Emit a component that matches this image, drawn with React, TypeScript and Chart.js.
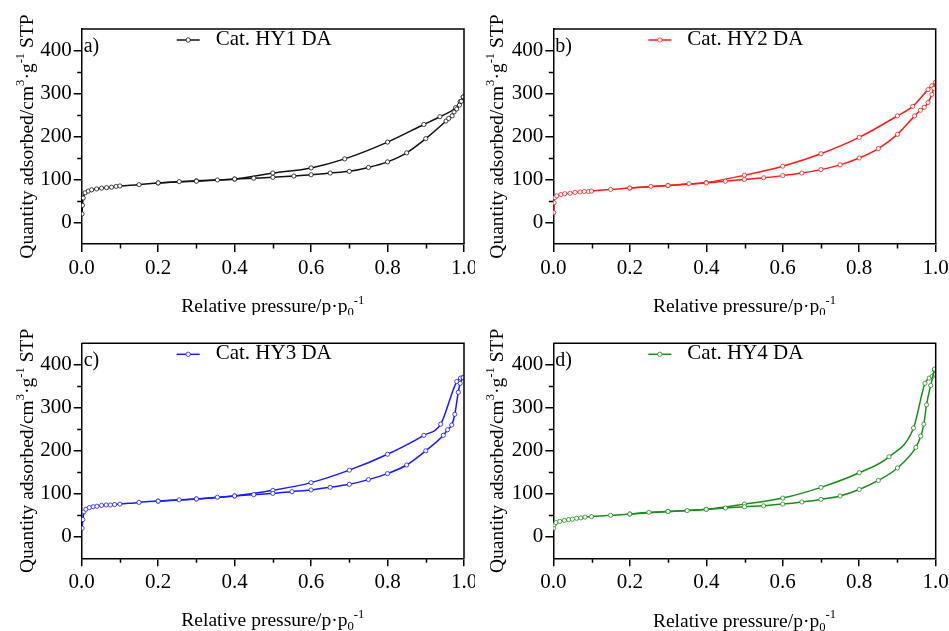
import React, { useEffect, useRef } from "react";
import { Chart, registerables } from "chart.js";

Chart.register(...registerables);

// ---- tick values ----
const xTickValues = [0, 0.2, 0.4, 0.6, 0.8, 1.0];
const xMinorTicks = [0.1, 0.3, 0.5, 0.7, 0.9];
const yTickValues = [0, 100, 200, 300, 400];
const yMinorTicks = [50, 150, 250, 350];

// ---- panel a: Cat. HY1 DA ----
const aAdsP = [0.001, 0.002, 0.004, 0.009, 0.017, 0.026, 0.039, 0.052, 0.065, 0.078, 0.09, 0.1, 0.15, 0.2, 0.255, 0.3, 0.355, 0.4, 0.45, 0.5, 0.555, 0.6, 0.65, 0.7, 0.75, 0.8, 0.85, 0.9, 0.953, 0.96, 0.969, 0.974, 0.981, 0.988, 0.993, 0.998];
const aAdsV = [20, 40, 57, 69, 73, 76, 78, 80, 81, 82, 84, 85, 88, 92, 95, 96, 99, 101, 103, 105, 108, 111, 115, 119, 128, 141, 162, 195, 236, 242, 248, 257, 264, 273, 282, 292];
const aDesP = [0.2, 0.3, 0.4, 0.5, 0.6, 0.688, 0.8, 0.895, 0.937, 0.978, 0.99, 0.998];
const aDesV = [92, 97, 101, 115, 127, 148, 187, 228, 246, 267, 281, 292];

// ---- panel b: Cat. HY2 DA ----
const bAdsP = [0.001, 0.002, 0.004, 0.009, 0.02, 0.03, 0.044, 0.057, 0.07, 0.081, 0.092, 0.1, 0.15, 0.2, 0.255, 0.3, 0.355, 0.4, 0.45, 0.5, 0.55, 0.6, 0.65, 0.7, 0.75, 0.8, 0.85, 0.9, 0.945, 0.96, 0.97, 0.98, 0.99, 0.995, 1.0];
const bAdsV = [23, 46, 58, 62, 65, 67, 68, 70, 71, 72, 72, 73, 77, 80, 84, 86, 90, 92, 96, 100, 104, 109, 115, 123, 134, 150, 172, 205, 248, 261, 268, 279, 298, 312, 326];
const bDesP = [0.2, 0.3, 0.4, 0.5, 0.6, 0.7, 0.8, 0.9, 0.94, 0.98, 0.99, 1.0];
const bDesV = [80, 86, 93, 110, 131, 160, 198, 248, 270, 309, 318, 326];

// ---- panel c: Cat. HY3 DA ----
const cAdsP = [0.001, 0.003, 0.006, 0.011, 0.02, 0.03, 0.04, 0.052, 0.064, 0.075, 0.086, 0.1, 0.15, 0.2, 0.255, 0.3, 0.355, 0.4, 0.45, 0.5, 0.55, 0.6, 0.65, 0.7, 0.75, 0.8, 0.85, 0.9, 0.946, 0.957, 0.968, 0.976, 0.985, 0.99, 0.998];
const cAdsV = [20, 40, 58, 64, 68, 70, 71, 73, 74, 74, 75, 76, 80, 83, 86, 88, 92, 95, 98, 101, 105, 109, 115, 122, 133, 147, 167, 200, 236, 249, 260, 285, 336, 357, 370];
const cDesP = [0.2, 0.3, 0.4, 0.5, 0.6, 0.7, 0.8, 0.895, 0.939, 0.981, 0.991, 0.998];
const cDesV = [83, 88, 95, 108, 126, 155, 192, 236, 262, 361, 369, 371];

// ---- panel d: Cat. HY4 DA ----
const dAdsP = [0.001, 0.002, 0.007, 0.017, 0.029, 0.04, 0.05, 0.061, 0.072, 0.083, 0.1, 0.15, 0.2, 0.25, 0.3, 0.35, 0.4, 0.45, 0.5, 0.55, 0.6, 0.65, 0.7, 0.75, 0.8, 0.85, 0.9, 0.948, 0.961, 0.969, 0.976, 0.987, 0.997];
const dAdsV = [20, 28, 33, 36, 38, 40, 41, 43, 44, 46, 47, 50, 53, 57, 59, 61, 64, 67, 70, 72, 76, 81, 87, 95, 110, 131, 160, 208, 234, 262, 307, 352, 390];
const dDesP = [0.2, 0.3, 0.4, 0.5, 0.6, 0.7, 0.8, 0.878, 0.942, 0.972, 0.983, 0.991, 0.997];
const dDesV = [53, 59, 64, 76, 90, 115, 149, 186, 253, 357, 369, 373, 388];

const FONT = "'Liberation Serif', 'Times New Roman', 'DejaVu Serif', serif";

type Seg = { t: string; k: "n" | "sub" | "sup" };
const xTitleSegs: Seg[] = [
  { t: "Relative pressure/p·p", k: "n" },
  { t: "0", k: "sub" },
  { t: "-1", k: "sup" },
];
const yTitleSegs: Seg[] = [
  { t: "Quantity adsorbed/cm", k: "n" },
  { t: "3", k: "sup" },
  { t: "·g", k: "n" },
  { t: "-1", k: "sup" },
  { t: " STP", k: "n" },
];

function drawRich(ctx: CanvasRenderingContext2D, segs: Seg[], size: number) {
  const widths = segs.map((s) => {
    const fs = s.k === "n" ? size : size * 0.65;
    ctx.font = `${fs}px ${FONT}`;
    return ctx.measureText(s.t).width;
  });
  const total = widths.reduce((a, b) => a + b, 0);
  let x = -total / 2;
  segs.forEach((s, i) => {
    const fs = s.k === "n" ? size : size * 0.65;
    ctx.font = `${fs}px ${FONT}`;
    const dy = s.k === "sub" ? size * 0.22 : s.k === "sup" ? -size * 0.42 : 0;
    ctx.fillText(s.t, x, dy);
    x += widths[i];
  });
}

type Panel = {
  tag: string;
  name: string;
  color: string;
  adsP: number[];
  adsV: number[];
  desP: number[];
  desV: number[];
  left: number;
  top: number;
  w: number;
  h: number;
  area: { left: number; right: number; top: number; bottom: number };
  yTitleX: number;
  xTitleY: number;
};

const panels: Panel[] = [
  { tag: "a)", name: "Cat. HY1 DA", color: "#111111", adsP: aAdsP, adsV: aAdsV, desP: aDesP, desV: aDesV,
    left: 0, top: 0, w: 475, h: 315, area: { left: 81.7, right: 464, top: 29, bottom: 244 }, yTitleX: 32.5, xTitleY: 312 },
  { tag: "b)", name: "Cat. HY2 DA", color: "#ff1a1a", adsP: bAdsP, adsV: bAdsV, desP: bDesP, desV: bDesV,
    left: 475, top: 0, w: 474, h: 315, area: { left: 78.3, right: 460.7, top: 29, bottom: 244 }, yTitleX: 27.5, xTitleY: 312 },
  { tag: "c)", name: "Cat. HY3 DA", color: "#1a1aff", adsP: cAdsP, adsV: cAdsV, desP: cDesP, desV: cDesV,
    left: 0, top: 315, w: 475, h: 316, area: { left: 81.7, right: 464, top: 28.3, bottom: 243.3 }, yTitleX: 32.5, xTitleY: 311 },
  { tag: "d)", name: "Cat. HY4 DA", color: "#1a8c1a", adsP: dAdsP, adsV: dAdsV, desP: dDesP, desV: dDesV,
    left: 475, top: 315, w: 474, h: 316, area: { left: 78.3, right: 460.7, top: 28.3, bottom: 243.3 }, yTitleX: 27.5, xTitleY: 311.5 },
];

function PanelChart({ p }: { p: Panel }) {
  const ref = useRef<HTMLCanvasElement | null>(null);
  useEffect(() => {
    if (!ref.current) return;
    const decor = {
      id: "decor",
      afterDraw(chart: any) {
        const { ctx, chartArea } = chart;
        const { left, right, top, bottom } = chartArea;
        const xs = chart.scales.x;
        const ys = chart.scales.y;
        ctx.save();
        ctx.strokeStyle = "#000";
        ctx.lineWidth = 1.5;
        ctx.beginPath();
        ctx.moveTo(left, top);
        ctx.lineTo(right, top);
        ctx.lineTo(right, bottom);
        ctx.stroke();
        // minor ticks
        ctx.beginPath();
        yMinorTicks.forEach((v) => {
          const py = Math.round(ys.getPixelForValue(v)) + 0.5;
          ctx.moveTo(left - 4.5, py);
          ctx.lineTo(left, py);
        });
        xMinorTicks.forEach((v) => {
          const px = Math.round(xs.getPixelForValue(v)) + 0.5;
          ctx.moveTo(px, bottom);
          ctx.lineTo(px, bottom + 4.5);
        });
        ctx.stroke();
        // panel tag
        ctx.fillStyle = "#000";
        ctx.font = `20px ${FONT}`;
        ctx.textAlign = "left";
        ctx.textBaseline = "alphabetic";
        ctx.fillText(p.tag, left + 2, top + 23);
        // legend
        const ly = top + 11;
        ctx.strokeStyle = p.color;
        ctx.lineWidth = 1.5;
        ctx.beginPath();
        ctx.moveTo(left + 95, ly);
        ctx.lineTo(left + 118, ly);
        ctx.stroke();
        ctx.beginPath();
        ctx.arc(left + 106.5, ly, 2.2, 0, Math.PI * 2);
        ctx.fillStyle = "#fff";
        ctx.fill();
        ctx.lineWidth = 0.8;
        ctx.stroke();
        ctx.fillStyle = "#000";
        ctx.font = `21px ${FONT}`;
        ctx.textBaseline = "middle";
        ctx.fillText(p.name, left + 134, top + 10);
        // axis titles
        ctx.textBaseline = "alphabetic";
        ctx.textAlign = "left";
        ctx.save();
        ctx.translate((left + right) / 2, p.xTitleY);
        drawRich(ctx, xTitleSegs, 19.5);
        ctx.restore();
        ctx.save();
        ctx.translate(p.yTitleX, (top + bottom) / 2);
        ctx.rotate(-Math.PI / 2);
        drawRich(ctx, yTitleSegs, 19.5);
        ctx.restore();
        ctx.restore();
      },
    };

    const mk = (P: number[], V: number[]) => P.map((x, i) => ({ x, y: V[i] }));
    const ds = (label: string, P: number[], V: number[]) => ({
      label,
      data: mk(P, V),
      borderColor: p.color,
      backgroundColor: "#ffffff",
      borderWidth: 1.5,
      pointRadius: 2.1,
      pointBorderWidth: 0.8,
      pointBackgroundColor: "#ffffff",
      pointBorderColor: p.color,
      cubicInterpolationMode: "monotone" as const,
      fill: false,
    });

    const tickFont = { family: FONT, size: 21 };
    const chart = new Chart(ref.current, {
      type: "line",
      data: {
        datasets: [ds(p.name, p.adsP, p.adsV), ds(p.name + " (desorption)", p.desP, p.desV)],
      },
      options: {
        responsive: false,
        animation: false,
        devicePixelRatio: 1,
        layout: { padding: { top: p.area.top, right: p.w - p.area.right, left: 0, bottom: 0 } },
        plugins: { legend: { display: false }, tooltip: { enabled: false }, title: { display: false } },
        scales: {
          x: {
            type: "linear",
            min: 0,
            max: 1,
            afterBuildTicks: (ax: any) => {
              ax.ticks = xTickValues.map((v) => ({ value: v }));
            },
            afterFit: (ax: any) => {
              ax.height = p.h - p.area.bottom;
              ax.paddingLeft = 0;
              ax.paddingRight = 0;
            },
            ticks: {
              callback: (v: any) => Number(v).toFixed(1),
              font: tickFont,
              color: "#000",
              padding: 4,
              maxRotation: 0,
              autoSkip: false,
            },
            grid: { drawOnChartArea: false, tickLength: 8, color: "#000", lineWidth: 1.5 },
            border: { color: "#000", width: 1.5 },
          },
          y: {
            type: "linear",
            min: -50,
            max: 450,
            afterBuildTicks: (ax: any) => {
              ax.ticks = yTickValues.map((v) => ({ value: v }));
            },
            afterFit: (ax: any) => {
              ax.width = p.area.left;
              ax.paddingTop = 0;
              ax.paddingBottom = 0;
            },
            ticks: { font: tickFont, color: "#000", padding: 2, autoSkip: false },
            grid: { drawOnChartArea: false, tickLength: 8, color: "#000", lineWidth: 1.5 },
            border: { color: "#000", width: 1.5 },
          },
        },
      },
      plugins: [decor],
    });
    return () => chart.destroy();
  }, [p]);

  return (
    <canvas
      ref={ref}
      width={p.w}
      height={p.h}
      style={{ position: "absolute", left: p.left, top: p.top, width: p.w, height: p.h, display: "block" }}
    />
  );
}

export default function App() {
  return (
    <div style={{ position: "absolute", left: 0, top: 0, width: 949, height: 631, background: "#fff", overflow: "hidden" }}>
      {panels.map((p) => (
        <PanelChart key={p.tag} p={p} />
      ))}
    </div>
  );
}
